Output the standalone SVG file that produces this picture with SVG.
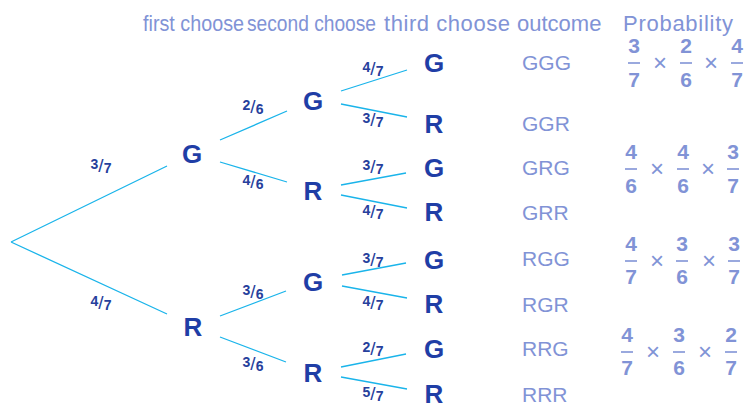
<svg xmlns="http://www.w3.org/2000/svg" width="746" height="408" viewBox="0 0 746 408">
<style>
.hd{font-family:"Liberation Sans",Arial,sans-serif;font-size:22px;fill:#8193d6}
.oc{font-family:"Liberation Sans",Arial,sans-serif;font-size:21px;fill:#8193d6}
.nd{font-family:"Liberation Sans",Arial,sans-serif;font-size:26px;font-weight:bold;fill:#1f3ea6;text-anchor:middle}
.el{font-family:"Liberation Sans",Arial,sans-serif;font-size:14px;font-weight:bold;fill:#26409c;text-anchor:middle}
.sl{font-size:19px;font-weight:normal}
.fr{font-family:"Liberation Sans",Arial,sans-serif;font-size:21px;font-weight:bold;fill:#8193d6;text-anchor:middle}
.tm{font-family:"Liberation Sans",Arial,sans-serif;font-size:24px;fill:#8193d6;text-anchor:middle}
.bar{stroke:#8193d6;stroke-width:1.6}
.ln{stroke:#1ab4ea;stroke-width:1.3;fill:none}
</style>
<rect width="746" height="408" fill="#ffffff"/>
<g id="headers">
<text class="hd" x="143" y="31" textLength="101" lengthAdjust="spacingAndGlyphs">first choose</text>
<text class="hd" x="247" y="31" textLength="129" lengthAdjust="spacingAndGlyphs">second choose</text>
<text class="hd" x="384" y="31" textLength="126">third choose</text>
<text class="hd" x="517" y="31">outcome</text>
<text class="hd" x="623" y="31" textLength="110">Probability</text>
</g>
<g id="connectors">
<path class="ln" d="M11,242 L167,166 M11,242 L167,314"/>
<path class="ln" d="M220,140 L287,111 M220,162 L287,182"/>
<path class="ln" d="M220,316 L286,291 M220,337 L286,362"/>
<path class="ln" d="M341,91 L407,70 M341,104 L407,117"/>
<path class="ln" d="M341,185 L406,173 M341,195 L407,208"/>
<path class="ln" d="M342,275 L406,263 M342,286 L407,298"/>
<path class="ln" d="M341,367 L406,354 M341,377 L407,389"/>
</g>
<g id="edge-labels">
<text class="el" x="101" y="171"><tspan dy="-2">3</tspan><tspan class="sl" dy="3">/</tspan><tspan dy="1">7</tspan></text>
<text class="el" x="101" y="308"><tspan dy="-2">4</tspan><tspan class="sl" dy="3">/</tspan><tspan dy="1">7</tspan></text>
<text class="el" x="253" y="112"><tspan dy="-2">2</tspan><tspan class="sl" dy="3">/</tspan><tspan dy="1">6</tspan></text>
<text class="el" x="253" y="187"><tspan dy="-2">4</tspan><tspan class="sl" dy="3">/</tspan><tspan dy="1">6</tspan></text>
<text class="el" x="253" y="297"><tspan dy="-2">3</tspan><tspan class="sl" dy="3">/</tspan><tspan dy="1">6</tspan></text>
<text class="el" x="253" y="369"><tspan dy="-2">3</tspan><tspan class="sl" dy="3">/</tspan><tspan dy="1">6</tspan></text>
<text class="el" x="373" y="74"><tspan dy="-2">4</tspan><tspan class="sl" dy="3">/</tspan><tspan dy="1">7</tspan></text>
<text class="el" x="373" y="125"><tspan dy="-2">3</tspan><tspan class="sl" dy="3">/</tspan><tspan dy="1">7</tspan></text>
<text class="el" x="373" y="172"><tspan dy="-2">3</tspan><tspan class="sl" dy="3">/</tspan><tspan dy="1">7</tspan></text>
<text class="el" x="373" y="217"><tspan dy="-2">4</tspan><tspan class="sl" dy="3">/</tspan><tspan dy="1">7</tspan></text>
<text class="el" x="373" y="265"><tspan dy="-2">3</tspan><tspan class="sl" dy="3">/</tspan><tspan dy="1">7</tspan></text>
<text class="el" x="373" y="308"><tspan dy="-2">4</tspan><tspan class="sl" dy="3">/</tspan><tspan dy="1">7</tspan></text>
<text class="el" x="373" y="354"><tspan dy="-2">2</tspan><tspan class="sl" dy="3">/</tspan><tspan dy="1">7</tspan></text>
<text class="el" x="373" y="399"><tspan dy="-2">5</tspan><tspan class="sl" dy="3">/</tspan><tspan dy="1">7</tspan></text>
</g>
<g id="n1-G"><text class="nd" x="192" y="163">G</text></g>
<g id="n1-R"><text class="nd" x="193" y="336">R</text></g>
<g id="n2-GG"><text class="nd" x="313" y="110">G</text></g>
<g id="n2-GR"><text class="nd" x="313" y="200">R</text></g>
<g id="n2-RG"><text class="nd" x="313" y="291">G</text></g>
<g id="n2-RR"><text class="nd" x="313" y="382">R</text></g>
<g id="n3-GGG"><text class="nd" x="434" y="72">G</text></g>
<g id="n3-GGR"><text class="nd" x="434" y="133">R</text></g>
<g id="n3-GRG"><text class="nd" x="434" y="177">G</text></g>
<g id="n3-GRR"><text class="nd" x="434" y="221">R</text></g>
<g id="n3-RGG"><text class="nd" x="434" y="269">G</text></g>
<g id="n3-RGR"><text class="nd" x="434" y="313">R</text></g>
<g id="n3-RRG"><text class="nd" x="434" y="358">G</text></g>
<g id="n3-RRR"><text class="nd" x="434" y="403">R</text></g>
<g id="outcomes">
<text class="oc" x="522" y="70">GGG</text>
<text class="oc" x="522" y="131">GGR</text>
<text class="oc" x="522" y="175">GRG</text>
<text class="oc" x="522" y="220">GRR</text>
<text class="oc" x="522" y="266">RGG</text>
<text class="oc" x="522" y="312">RGR</text>
<text class="oc" x="522" y="356">RRG</text>
<text class="oc" x="522" y="402">RRR</text>
</g>
<g id="prob-GGG">
<text class="fr" x="634" y="53">3</text><line class="bar" x1="628" y1="63" x2="640" y2="63"/><text class="fr" x="634" y="87">7</text>
<text class="tm" x="660" y="71">×</text>
<text class="fr" x="686" y="53">2</text><line class="bar" x1="680" y1="63" x2="692" y2="63"/><text class="fr" x="686" y="87">6</text>
<text class="tm" x="711" y="71">×</text>
<text class="fr" x="737" y="53">4</text><line class="bar" x1="731" y1="63" x2="743" y2="63"/><text class="fr" x="737" y="87">7</text>
</g>
<g id="prob-GRG">
<text class="fr" x="631" y="159">4</text><line class="bar" x1="625" y1="169" x2="637" y2="169"/><text class="fr" x="631" y="193">6</text>
<text class="tm" x="657" y="177">×</text>
<text class="fr" x="683" y="159">4</text><line class="bar" x1="677" y1="169" x2="689" y2="169"/><text class="fr" x="683" y="193">6</text>
<text class="tm" x="708" y="177">×</text>
<text class="fr" x="733" y="159">3</text><line class="bar" x1="727" y1="169" x2="739" y2="169"/><text class="fr" x="733" y="193">7</text>
</g>
<g id="prob-RGG">
<text class="fr" x="631" y="251">4</text><line class="bar" x1="625" y1="261" x2="637" y2="261"/><text class="fr" x="631" y="284">7</text>
<text class="tm" x="657" y="269">×</text>
<text class="fr" x="682" y="251">3</text><line class="bar" x1="676" y1="261" x2="688" y2="261"/><text class="fr" x="682" y="284">6</text>
<text class="tm" x="709" y="269">×</text>
<text class="fr" x="734" y="251">3</text><line class="bar" x1="728" y1="261" x2="740" y2="261"/><text class="fr" x="734" y="284">7</text>
</g>
<g id="prob-RRG">
<text class="fr" x="627" y="342">4</text><line class="bar" x1="621" y1="352" x2="633" y2="352"/><text class="fr" x="627" y="375">7</text>
<text class="tm" x="653" y="360">×</text>
<text class="fr" x="679" y="342">3</text><line class="bar" x1="673" y1="352" x2="685" y2="352"/><text class="fr" x="679" y="375">6</text>
<text class="tm" x="705" y="360">×</text>
<text class="fr" x="731" y="342">2</text><line class="bar" x1="725" y1="352" x2="737" y2="352"/><text class="fr" x="731" y="375">7</text>
</g>
</svg>
